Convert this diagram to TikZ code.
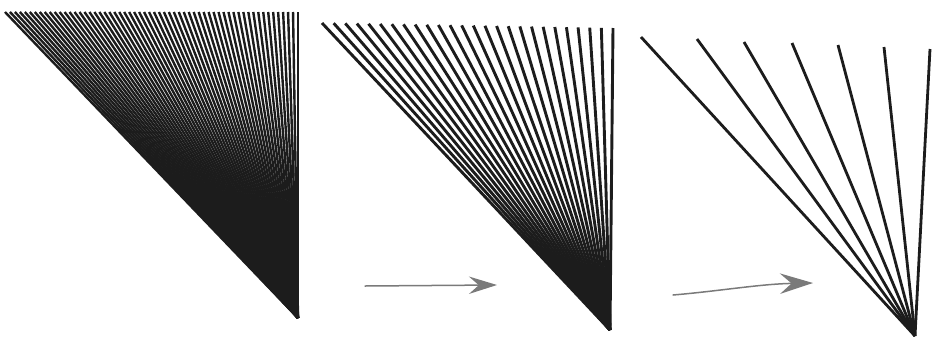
\documentclass[tikz,border=0pt]{standalone}
\usetikzlibrary{arrows.meta}
\definecolor{fanink}{HTML}{1C1C1C}
\definecolor{pencil}{HTML}{7A7A7A}
\tikzset{
  fanline/.style={line width=#1, draw=fanink, line cap=butt},
  handarrow/.style={draw=pencil, line width=1.5pt, line cap=round,
    -{Stealth[length=#1, width=0.62*#1, inset=0.35*#1, fill=pencil]}}
}
\begin{document}
\begin{tikzpicture}[x=1pt,y=-1pt]
\useasboundingbox (0,0) rectangle (935,338);
% panel 1: dense fan
\coordinate (v1) at (298,318);
\foreach \i in {0,...,59}{
  \pgfmathsetmacro{\xx}{5+\i/59*293}
  \draw[fanline=2.4pt] (\xx,12) -- (v1);
}
% panel 2: medium fan
\coordinate (v2) at (610,330);
\foreach \i in {0,...,25}{
  \pgfmathsetmacro{\xx}{322+\i/25*291}
  \pgfmathsetmacro{\yy}{23+\i/25*5}
  \draw[fanline=2.9pt] (\xx,\yy) -- (v2);
}
% panel 3: sparse fan
\coordinate (v3) at (915,336);
\foreach \xx/\yy in {641/37, 697/39, 744/42, 792/43, 838/45, 884/47, 930/49}{
  \draw[fanline=2.8pt] (\xx,\yy) -- (v3);
}
% hand-drawn arrows
\coordinate (a1s) at (365,286);
\coordinate (a1e) at (497,285);
\draw[handarrow=28pt] (a1s) -- (a1e);
\coordinate (a2s) at (673,295);
\coordinate (a2e) at (813,283);
\draw[handarrow=33pt] (a2s) .. controls (720,291) and (760,284) .. (a2e);
\end{tikzpicture}
\end{document}
